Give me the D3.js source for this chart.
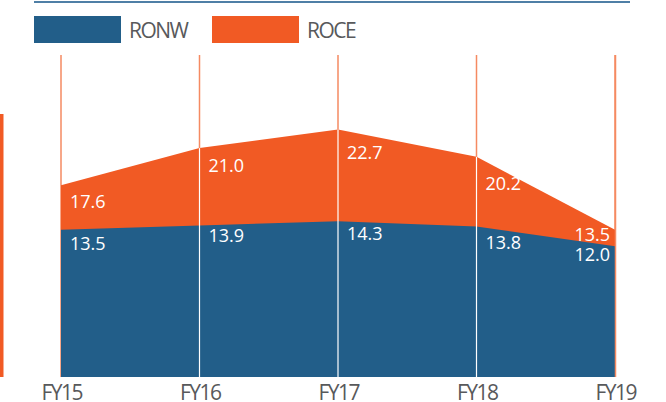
<!DOCTYPE html>
<html>
<head>
<meta charset="utf-8">
<script src="https://cdn.jsdelivr.net/npm/d3@7"></script>
<style>
  body { margin: 0; background: #fff; }
  svg { display: block; }
</style>
</head>
<body>
<script>
// data
const years = ["FY15", "FY16", "FY17", "FY18", "FY19"]
const ronw = [13.5, 13.9, 14.3, 13.8, 12.0]
const roce = [17.6, 21.0, 22.7, 20.2, 13.5]
const legendItems = ["RONW", "ROCE"]

const width = 666, height = 402
const blue = "#225e89", orange = "#f15a24", gridOrange = "#f58a62", grey = "#58595b"
const font = "'Open Sans', sans-serif"

// label nudges (layout only)
const roceDy = [23, 24, 29, 33, 11]
const ronwDy = [20, 17, 19, 22, 15]

const svg = d3.select("body").append("svg")
  .attr("width", width)
  .attr("height", height)

const x = d3.scalePoint().domain(years).range([61, 615])
const y = d3.scaleLinear().domain([0, 30]).range([377, 50])

// top rule
svg.append("line")
  .attr("x1", 34).attr("x2", 630)
  .attr("y1", 2).attr("y2", 2)
  .attr("stroke", "#4f7fa6")
  .attr("stroke-width", 2)

// left accent bar
svg.append("rect")
  .attr("x", 0).attr("y", 114)
  .attr("width", 3.5).attr("height", 263)
  .attr("fill", orange)

// legend
const legend = svg.append("g").attr("id", "legend")
const legendX = [34, 212]
legendItems.forEach((name, i) => {
  legend.append("rect")
    .attr("x", legendX[i]).attr("y", 16)
    .attr("width", 87).attr("height", 27)
    .attr("fill", i === 0 ? blue : orange)
  legend.append("text")
    .attr("x", legendX[i] + 95)
    .attr("y", 38)
    .attr("fill", grey)
    .style("font", `21px ${font}`)
    .style("letter-spacing", "-1.5px")
    .text(name)
})

// vertical gridlines (under the areas)
svg.append("g").attr("id", "grid")
  .selectAll("line")
  .data(years)
  .join("line")
    .attr("x1", d => x(d)).attr("x2", d => x(d))
    .attr("y1", 55).attr("y2", y(0))
    .attr("stroke", gridOrange)
    .attr("stroke-width", 1.5)

const area = vals => d3.area()
  .x((d, i) => x(years[i]))
  .y0(y(0))
  .y1(d => y(d))
  (vals)

svg.append("path")
  .attr("d", area(roce))
  .attr("fill", orange)

svg.append("path")
  .attr("d", area(ronw))
  .attr("fill", blue)

// white gridlines inside the areas
svg.append("g").attr("id", "grid-inner")
  .selectAll("line")
  .data(years.slice(1, -1))
  .join("line")
    .attr("x1", d => x(d)).attr("x2", d => x(d))
    .attr("y1", d => y(roce[years.indexOf(d)])).attr("y2", y(0))
    .attr("stroke", "#fff")
    .attr("stroke-width", 1.2)

// right edge line
svg.append("line")
  .attr("x1", x("FY19") + 0.5).attr("x2", x("FY19") + 0.5)
  .attr("y1", 55).attr("y2", y(0))
  .attr("stroke", gridOrange)
  .attr("stroke-width", 1.5)

// value labels
const last = years.length - 1
const labelX = (d, i) => i === last ? x(d) - 5 : x(d) + 9
const anchor = (d, i) => i === last ? "end" : "start"

svg.append("g").attr("id", "roce-labels")
  .selectAll("text")
  .data(years)
  .join("text")
    .attr("x", labelX)
    .attr("y", (d, i) => y(roce[i]) + roceDy[i])
    .attr("text-anchor", anchor)
    .attr("fill", "#fff")
    .style("font", `18px ${font}`)
    .text((d, i) => roce[i].toFixed(1))

svg.append("g").attr("id", "ronw-labels")
  .selectAll("text")
  .data(years)
  .join("text")
    .attr("x", labelX)
    .attr("y", (d, i) => y(ronw[i]) + ronwDy[i])
    .attr("text-anchor", anchor)
    .attr("fill", "#fff")
    .style("font", `18px ${font}`)
    .text((d, i) => ronw[i].toFixed(1))

// x axis labels
svg.append("g").attr("id", "x-axis")
  .selectAll("text")
  .data(years)
  .join("text")
    .attr("x", d => x(d) + 0.75)
    .attr("y", 400)
    .attr("text-anchor", "middle")
    .attr("fill", grey)
    .style("font", `21px ${font}`)
    .style("letter-spacing", "-1.5px")
    .text(d => d)
</script>
</body>
</html>
